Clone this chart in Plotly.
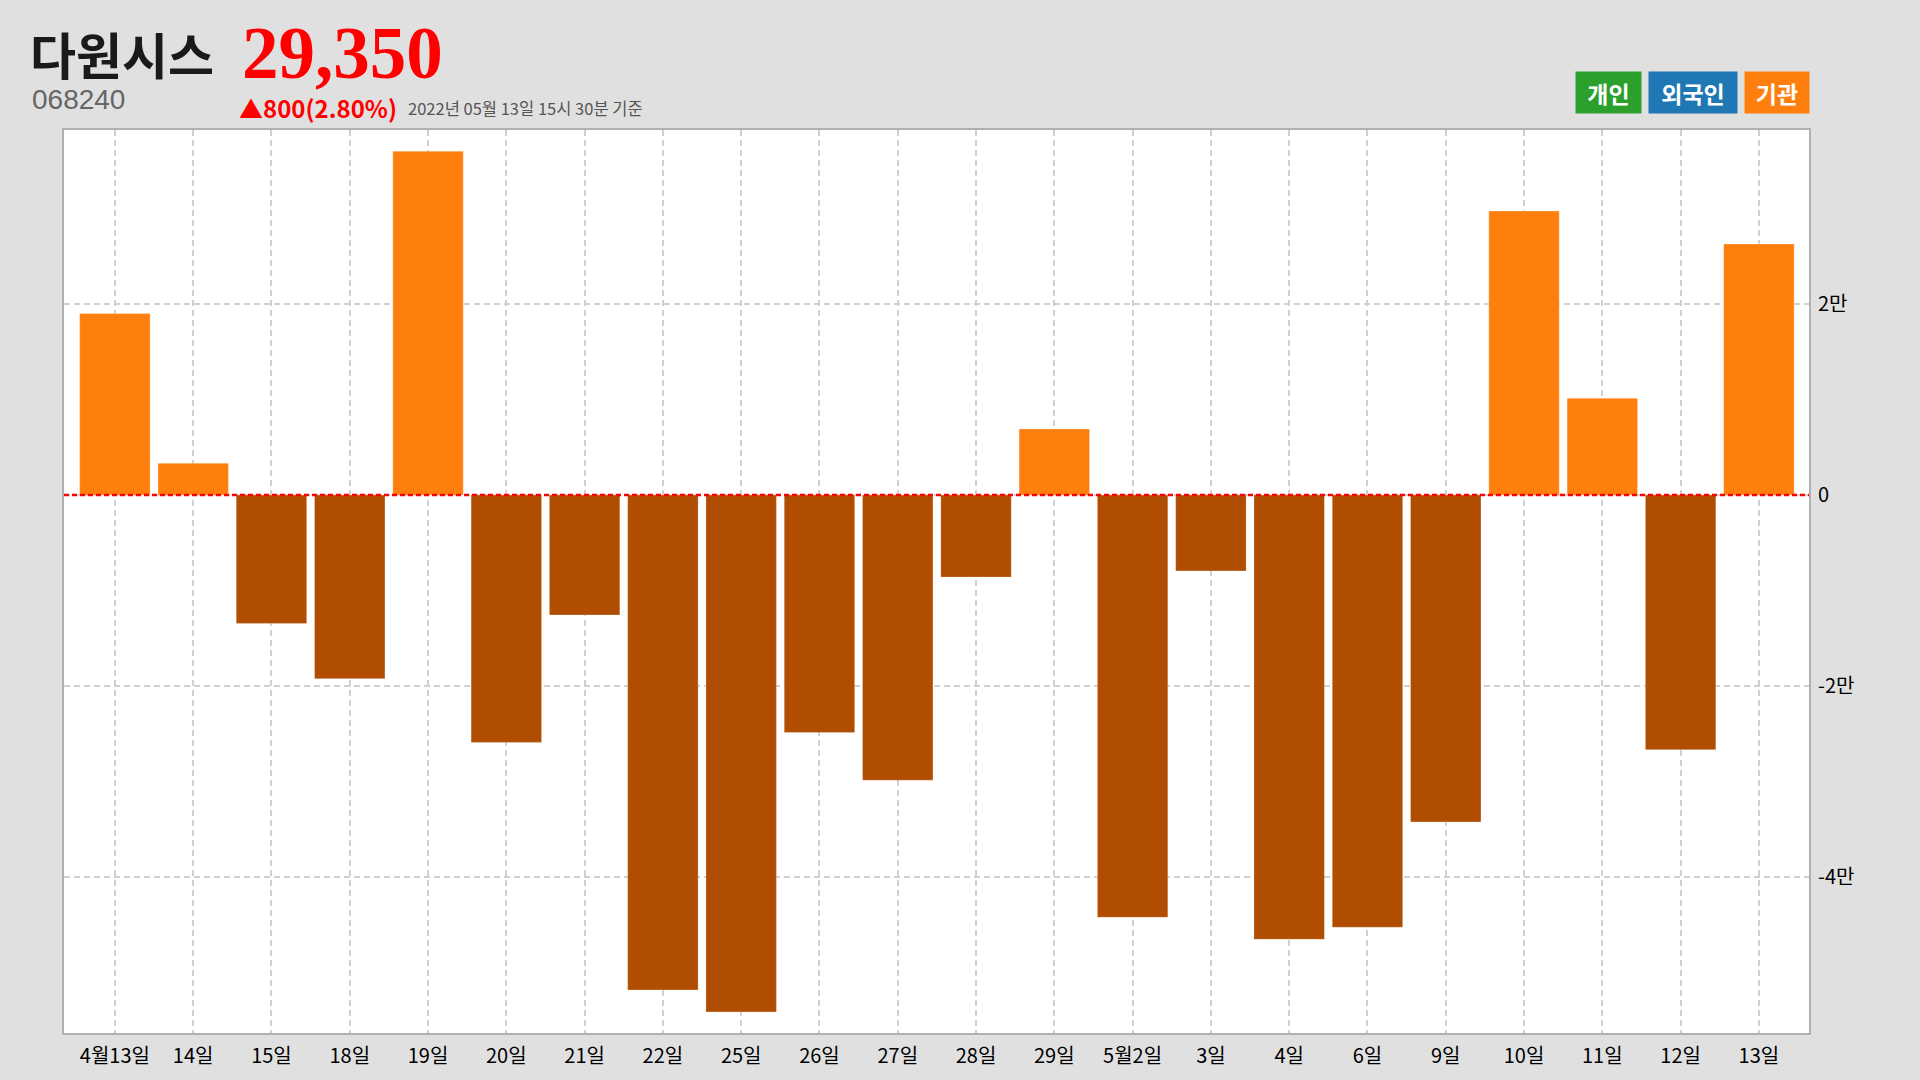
import plotly.graph_objects as go

# ---- data ----
categories = ["4월13일", "14일", "15일", "18일", "19일", "20일", "21일", "22일", "25일", "26일", "27일",
              "28일", "29일", "5월2일", "3일", "4일", "6일", "9일", "10일", "11일", "12일", "13일"]
institution_net = [19000, 3330, -13460, -19230, 36000, -25900, -12560, -51830, -54130, -24870, -29870,
                   -8590, 6920, -44220, -7950, -46520, -45260, -34230, 29740, 10130, -26670, 26280]
y_tickvals = [-40000, -20000, 0, 20000]
y_ticktext = ["-4만", "-2만", "0", "2만"]
legend_labels = ["개인", "외국인", "기관"]
legend_colors = ["#2ca02c", "#1f77b4", "#ff7f0e"]

stock_name = "다원시스"
stock_code = "068240"
price_text = "29,350"
change_text = "▲800(2.80%)"
time_text = "2022년 05월 13일 15시 30분 기준"

W, H = 1920, 1080
L, R, T, B = 64, 1809, 130, 1033

POS = "#ff7f0e"
NEG = "#b04d00"
bar_colors = [POS if v >= 0 else NEG for v in institution_net]

xs = list(range(len(categories)))

fig = go.Figure()
fig.add_trace(go.Bar(
    x=xs, y=institution_net, width=0.9,
    marker=dict(color=bar_colors, line=dict(width=0.8, color="rgba(255,255,255,0.35)")),
    hoverinfo="x+y", showlegend=False,
))


def px_x(p):
    return (p - L) / (R - L)


def px_y(p):
    return (B - p) / (B - T)


annotations = []
annotations.append(dict(text=f"<b>{stock_name}</b>", x=px_x(28), y=px_y(53), xref="paper", yref="paper",
                        xanchor="left", yanchor="middle", showarrow=False,
                        font=dict(family="Noto Sans CJK KR", size=50, color="#1a1a1a")))
annotations.append(dict(text=f"<b>{price_text}</b>", x=px_x(240), y=px_y(53), xref="paper", yref="paper",
                        xanchor="left", yanchor="middle", showarrow=False,
                        font=dict(family="Liberation Serif", size=73, color="#ff0000")))
annotations.append(dict(text=stock_code, x=px_x(30), y=px_y(99), xref="paper", yref="paper",
                        xanchor="left", yanchor="middle", showarrow=False,
                        font=dict(family="Liberation Sans", size=28, color="#666666")))
annotations.append(dict(text=f"<b>{change_text}</b>", x=px_x(237), y=px_y(108), xref="paper", yref="paper",
                        xanchor="left", yanchor="middle", showarrow=False,
                        font=dict(family="Noto Sans CJK KR", size=24, color="#ff0000")))
annotations.append(dict(text=time_text, x=px_x(406), y=px_y(108), xref="paper", yref="paper",
                        xanchor="left", yanchor="middle", showarrow=False,
                        font=dict(family="Noto Sans CJK KR", size=16.5, color="#555555")))

legend_boxes = [(1576, 1641), (1649, 1737), (1745, 1809)]
for (x0, x1), lab, col in zip(legend_boxes, legend_labels, legend_colors):
    annotations.append(dict(text=f"<b>{lab}</b>", x=px_x((x0 + x1) / 2), y=px_y(92.5), xref="paper", yref="paper",
                            xanchor="center", yanchor="middle", showarrow=False,
                            width=x1 - x0, height=41, borderpad=0, bgcolor=col,
                            font=dict(family="Noto Sans CJK KR", size=23, color="white")))

shapes = [dict(type="line", xref="paper", yref="y", x0=0, x1=1, y0=0, y1=0,
               line=dict(color="#ff0000", width=2.5, dash="5px,3px"), layer="above")]

fig.update_layout(
    width=W, height=H,
    margin=dict(l=L, r=W - R, t=T, b=H - B, pad=0),
    paper_bgcolor="#e0e0e0", plot_bgcolor="#ffffff",
    bargap=0.1,
    annotations=annotations, shapes=shapes,
    font=dict(family="Noto Sans CJK KR", color="#000000"),
)
fig.update_xaxes(
    range=[-0.65, 21.64], tickmode="array", tickvals=xs, ticktext=categories,
    tickfont=dict(family="Noto Sans CJK KR", size=20, color="#000000"),
    showgrid=True, gridcolor="#d0d0d0", gridwidth=1.5, griddash="6px,4px",
    showline=True, linecolor="#b0b0b0", linewidth=2, mirror=True,
    ticks="", ticklabelstandoff=4, zeroline=False,
)
fig.update_yaxes(
    range=[-56330, 38220], side="right", tickmode="array", tickvals=y_tickvals, ticktext=y_ticktext,
    tickfont=dict(family="Noto Sans CJK KR", size=20, color="#000000"),
    showgrid=True, gridcolor="#d0d0d0", gridwidth=1.5, griddash="6px,4px",
    showline=True, linecolor="#b0b0b0", linewidth=2, mirror=True,
    ticks="", ticklabelstandoff=3, zeroline=False,
)

fig.write_html("out.html", config={"displayModeBar": False},
               post_script="document.body.style.margin='0';document.body.style.overflow='hidden';")
